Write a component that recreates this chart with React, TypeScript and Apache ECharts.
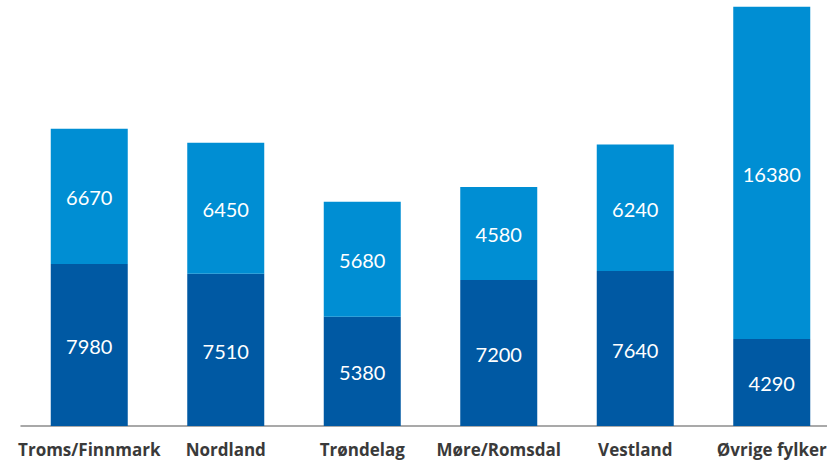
import React, { useEffect, useRef } from "react";
import * as echarts from "echarts";

const categories = ["Troms/Finnmark", "Nordland", "Trøndelag", "Møre/Romsdal", "Vestland", "Øvrige fylker"];
const lowerValues = [7980, 7510, 5380, 7200, 7640, 4290];
const upperValues = [6670, 6450, 5680, 4580, 6240, 16380];

export default function App() {
  const ref = useRef<HTMLDivElement>(null);
  useEffect(() => {
    const chart = echarts.init(ref.current!, null, { renderer: "svg" });
    const label = {
      show: true,
      position: "inside",
      color: "#ffffff",
      fontFamily: "Lato",
      fontSize: 20,
      offset: [0, 1],
    };
    chart.setOption({
      animation: false,
      grid: { left: 21, right: 0, top: 0, bottom: 35 },
      xAxis: {
        type: "category",
        data: categories,
        axisLine: { lineStyle: { color: "#8c8c8c", width: 1.5 } },
        axisTick: { show: false },
        axisLabel: {
          color: "#3a3a3a",
          fontFamily: "Open Sans",
          fontWeight: "bold",
          fontSize: 17,
          margin: 15,
          interval: 0,
        },
      },
      yAxis: {
        type: "value",
        min: 0,
        max: 21000,
        show: false,
        splitLine: { show: false },
      },
      series: [
        {
          type: "bar",
          stack: "total",
          data: lowerValues,
          barWidth: 77,
          itemStyle: { color: "#0059a3" },
          label,
        },
        {
          type: "bar",
          stack: "total",
          data: upperValues,
          barWidth: 77,
          itemStyle: { color: "#008ed3" },
          label,
        },
      ],
    });
    return () => chart.dispose();
  }, []);
  return (
    <div style={{ width: 827, height: 461, position: "absolute", left: 0, top: 0, overflow: "hidden" }}>
      <div ref={ref} style={{ width: 840, height: 461 }} />
    </div>
  );
}
